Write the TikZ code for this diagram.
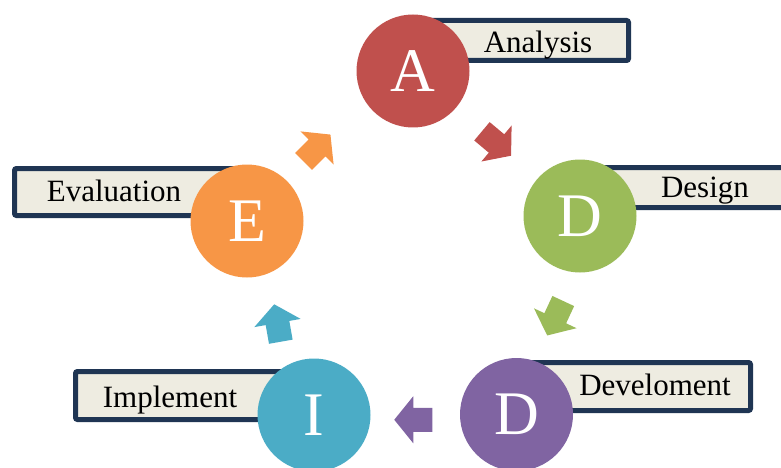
\documentclass[tikz,border=0pt]{standalone}
\usepackage{fontspec}
\setmainfont{Liberation Serif}
\usetikzlibrary{calc}

\definecolor{navy}{HTML}{1F3553}
\definecolor{paper}{HTML}{EEECE1}
\definecolor{cA}{HTML}{C0504D}
\definecolor{cD}{HTML}{9BBB59}
\definecolor{cV}{HTML}{8064A2}
\definecolor{cI}{HTML}{4BACC6}
\definecolor{cE}{HTML}{F79646}

\begin{document}
\begin{tikzpicture}[x=1pt,y=-1pt,
    lbl/.style={draw=navy,fill=paper,line width=5pt,rounded corners=2pt},
    txt/.style={anchor=base,font=\fontsize{31}{36}\selectfont},
    phase/.style={circle,minimum size=113pt,inner sep=0pt,text=white,font=\fontsize{62}{70}\selectfont},
    blockarrow/.pic={\path[pic actions] (-19,-12) -- (0,-12) -- (0,-23.5) -- (19,0) -- (0,23.5) -- (0,12) -- (-19,12) -- cycle;}]
    \useasboundingbox (0,0) rectangle (781,468);

    % label boxes behind the circles
    \draw[lbl] (402.5,20.5) rectangle (628.5,60.5);
    \draw[lbl] (602.5,167.5) rectangle (795,207.5);
    \draw[lbl] (502.5,362.5) rectangle (750.5,410.5);
    \draw[lbl] (75.5,371.5) rectangle (298,419.5);
    \draw[lbl] (14.5,168.5) rectangle (238,215.5);

    \node[txt] (tA) at (538,53)  {Analysis};
    \node[txt] (tD) at (705,197) {Design};
    \node[txt] (tV) at (655,395) {Develoment};
    \node[txt] (tI) at (170,407) {Implement};
    \node[txt] (tE) at (114,201) {Evaluation};

    % phases
    \node[phase,fill=cA] (A)  at (413,71)    {A};
    \node[phase,fill=cD] (D1) at (580,216)   {D};
    \node[phase,fill=cV] (D2) at (516.5,414.5) {D};
    \node[phase,fill=cI] (I)  at (314,415)   {I};
    \node[phase,fill=cE] (E)  at (247,221)   {E};

    % block arrows between the phases
    \pic[fill=cA,rotate=-40] at ($(A)!0.5!(D1)$) {blockarrow};
    \pic[fill=cD,rotate=245] at ($(D1)!0.5!(D2)+(7,3)$) {blockarrow};
    \pic[fill=cV,rotate=180] at ($(D2)!0.5!(I)+(-2,5)$) {blockarrow};
    \pic[fill=cI,rotate=100] at ($(I)!0.5!(E)+(-3,5)$) {blockarrow};
    \pic[fill=cE,rotate=45] at ($(E)!0.5!(A)+(-13,2)$) {blockarrow};
\end{tikzpicture}
\end{document}
